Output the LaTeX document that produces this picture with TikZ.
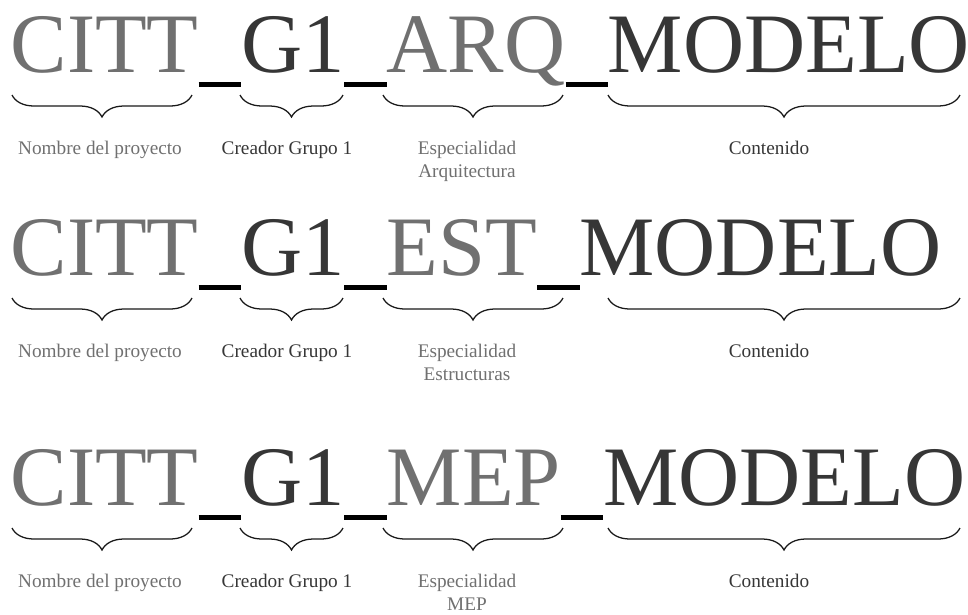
\documentclass[tikz,border=0pt]{standalone}
\usepackage{fontspec}
\setmainfont{Liberation Serif}
\usetikzlibrary{positioning, decorations.pathreplacing}

\definecolor{segGrey}{HTML}{707070}
\definecolor{segDark}{HTML}{363636}

\begin{document}
\begin{tikzpicture}[x=0.025cm, y=-0.025cm,
        seg/.style={inner sep=0pt, outer sep=0pt, anchor=base west, font=\fontsize{60.2}{60}\selectfont},
        light/.style={seg, text=segGrey},
        dark/.style={seg, text=segDark},
        bar/.style={seg, text=black},
        part/.style={decorate, decoration={brace, mirror, amplitude=0.55cm}, line width=0.9pt, draw=black!90},
        note/.style={anchor=base, align=center, inner sep=0pt, font=\fontsize{13.7}{16.1}\selectfont}
    ]
        \useasboundingbox (0,0) rectangle (968,614);

        \foreach \r/\y/\spec/\desc in {1/72/ARQ/Arquitectura, 2/275/EST/Estructuras, 3/505/MEP/MEP} {
            % File name, one coloured chunk per field, separators as low bars
            \node[light] (citt\r) at (10.6,\y) {CITT};
            \node[bar, base right=0pt of citt\r] (usA\r) {\rule[-0.18em]{0.5em}{0.06em}};
            \node[dark, base right=0pt of usA\r] (grp\r) {G1};
            \node[bar, base right=0pt of grp\r] (usB\r) {\rule[-0.18em]{0.5em}{0.06em}};
            \node[light, base right=0pt of usB\r] (spec\r) {\spec};
            \node[bar, base right=0pt of spec\r] (usC\r) {\rule[-0.18em]{0.5em}{0.06em}};
            \node[dark, base right=0pt of usC\r] (cont\r) {MODELO};

            % Braces under the fields
            \draw[part] (12,\y+23) -- (192,\y+23);
            \draw[part] (240,\y+23) -- (343,\y+23);
            \draw[part] (383,\y+23) -- (563,\y+23);
            \draw[part] (608,\y+23) -- (960,\y+23);

            % Field names (two-line one sits on its last line)
            \node[note, text=segGrey] (nameLbl\r) at (100,\y+82) {Nombre del proyecto};
            \node[note, text=segDark] (grpLbl\r) at (287,\y+82) {Creador Grupo 1};
            \node[note, text=segGrey] (specLbl\r) at (467,\y+105) {Especialidad\\\desc};
            \node[note, text=segDark] (contLbl\r) at (769,\y+82) {Contenido};
        }
    \end{tikzpicture}
\end{document}
